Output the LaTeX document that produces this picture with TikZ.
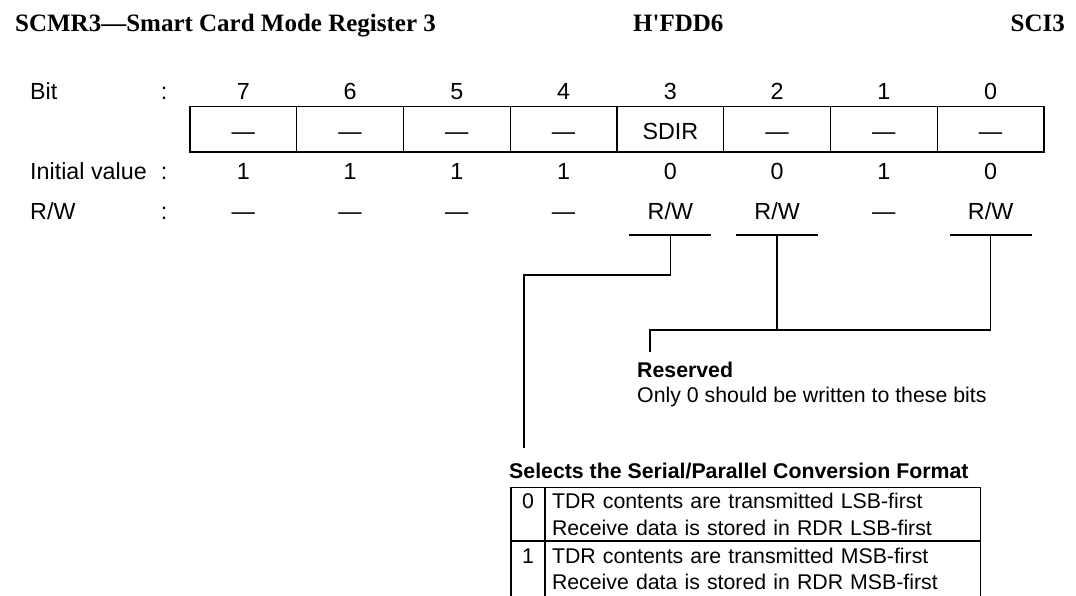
\documentclass[tikz,border=0pt]{standalone}
\usepackage{fontspec}
\setmainfont{Liberation Serif}
\newfontfamily\arialfont{Liberation Sans}
\usetikzlibrary{positioning}
\newcommand{\titlefont}{\fontsize{25}{29}\selectfont\bfseries}
\newcommand{\rowfont}{\arialfont\fontsize{23.3}{28}\selectfont}
\newcommand{\descfont}{\arialfont\fontsize{21.3}{26.5}\selectfont}
\tikzset{
  regcell/.style={
    rectangle, draw, line width=1.4pt,
    minimum width=106.75pt, minimum height=45.5pt,
    inner sep=0pt, outer sep=0pt,
    text height=19.5pt, text depth=0pt,
    font=\rowfont
  },
  rowlabel/.style={anchor=base west, inner sep=0pt, font=\rowfont},
  rowval/.style={anchor=base, inner sep=0pt, font=\rowfont},
  headtext/.style={anchor=base west, inner sep=0pt, font=\titlefont},
  desctext/.style={anchor=base west, inner sep=0pt, font=\descfont},
  numcell/.style={
    rectangle, draw, line width=1.2pt,
    minimum width=34pt, minimum height=53.5pt,
    inner sep=0pt, outer sep=0pt,
    text height=15.3pt, text depth=26.5pt,
    font=\descfont
  },
  textcell/.style={
    rectangle, draw, line width=1.2pt,
    minimum width=435.5pt, minimum height=53.5pt,
    text width=421.5pt, inner xsep=7pt, inner ysep=0pt, outer sep=0pt,
    align=left, font=\descfont
  },
  wire/.style={line width=1.3pt},
}

\begin{document}
\begin{tikzpicture}[x=1pt, y=-1pt, node distance=0pt]
  \useasboundingbox (0,0) rectangle (1076,595);
  \node[headtext] (regname) at (15,31) {SCMR3—Smart Card Mode Register 3};
  \node[headtext] (regaddr) at (633,31) {H\textquotesingle FDD6};
  \node[headtext, anchor=base east] (regmod) at (1065,31) {SCI3};

  \node[regcell] (b7) at (243.375,129.25) {—};
  \node[regcell, right=of b7] (b6) {—};
  \node[regcell, right=of b6] (b5) {—};
  \node[regcell, right=of b5] (b4) {—};
  \node[regcell, right=of b4] (b3) {SDIR};
  \node[regcell, right=of b3] (b2) {—};
  \node[regcell, right=of b2] (b1) {—};
  \node[regcell, right=of b1] (b0) {—};

  \node[rowlabel] (bitlbl) at (30,99) {Bit};
  \node[rowval] (bitcol) at (164,99) {:};
  \node[rowval] (n7) at (b7 |- 0,99) {7};
  \node[rowval] (n6) at (b6 |- 0,99) {6};
  \node[rowval] (n5) at (b5 |- 0,99) {5};
  \node[rowval] (n4) at (b4 |- 0,99) {4};
  \node[rowval] (n3) at (b3 |- 0,99) {3};
  \node[rowval] (n2) at (b2 |- 0,99) {2};
  \node[rowval] (n1) at (b1 |- 0,99) {1};
  \node[rowval] (n0) at (b0 |- 0,99) {0};

  \node[rowlabel] (initlbl) at (30,179) {Initial value};
  \node[rowval] (initcol) at (164,179) {:};
  \node[rowval] (v7) at (b7 |- 0,179) {1};
  \node[rowval] (v6) at (b6 |- 0,179) {1};
  \node[rowval] (v5) at (b5 |- 0,179) {1};
  \node[rowval] (v4) at (b4 |- 0,179) {1};
  \node[rowval] (v3) at (b3 |- 0,179) {0};
  \node[rowval] (v2) at (b2 |- 0,179) {0};
  \node[rowval] (v1) at (b1 |- 0,179) {1};
  \node[rowval] (v0) at (b0 |- 0,179) {0};

  \node[rowlabel] (rwlbl) at (30,219) {R/W};
  \node[rowval] (rwcol) at (164,219) {:};
  \node[rowval] (a7) at (b7 |- 0,219) {—};
  \node[rowval] (a6) at (b6 |- 0,219) {—};
  \node[rowval] (a5) at (b5 |- 0,219) {—};
  \node[rowval] (a4) at (b4 |- 0,219) {—};
  \node[rowval] (a3) at (b3 |- 0,219) {R/W};
  \node[rowval] (a2) at (b2 |- 0,219) {R/W};
  \node[rowval] (a1) at (b1 |- 0,219) {—};
  \node[rowval] (a0) at (b0 |- 0,219) {R/W};

  \coordinate (u3) at (b3 |- 0,235);
  \coordinate (u2) at (b2 |- 0,235);
  \coordinate (u0) at (b0 |- 0,235);
  \draw[wire] ([xshift=-41pt]u3) -- ([xshift=41pt]u3);
  \draw[wire] ([xshift=-41pt]u2) -- ([xshift=41pt]u2);
  \draw[wire] ([xshift=-41pt]u0) -- ([xshift=41pt]u0);

  \coordinate (resbend) at (650,330);
  \coordinate (resend) at (650,352);
  \draw[wire] (u0) |- (resbend) -- (resend);
  \draw[wire] (u2) -- (u2 |- resbend);
  \node[desctext, font=\descfont\bfseries] (reshead) at (637,377) {Reserved};
  \node[desctext] (resnote) at (637,402) {Only 0 should be written to these bits};

  \coordinate (sdirbend) at (524,275);
  \coordinate (sdirend) at (524,448);
  \draw[wire] (u3) |- (sdirbend) -- (sdirend);
  \node[desctext, font=\descfont\bfseries] (sdirhead) at (509,478)
    {Selects the Serial/Parallel Conversion Format};

  \node[numcell] (sel0) at (528,514.25) {0};
  \node[textcell, right=of sel0] (seltxt0)
    {TDR contents are transmitted LSB-first\\Receive data is stored in RDR LSB-first};
  \node[numcell, minimum height=56pt, below=of sel0] (sel1) {1};
  \node[textcell, minimum height=56pt, right=of sel1] (seltxt1)
    {TDR contents are transmitted MSB-first\\Receive data is stored in RDR MSB-first};
\end{tikzpicture}
\end{document}
